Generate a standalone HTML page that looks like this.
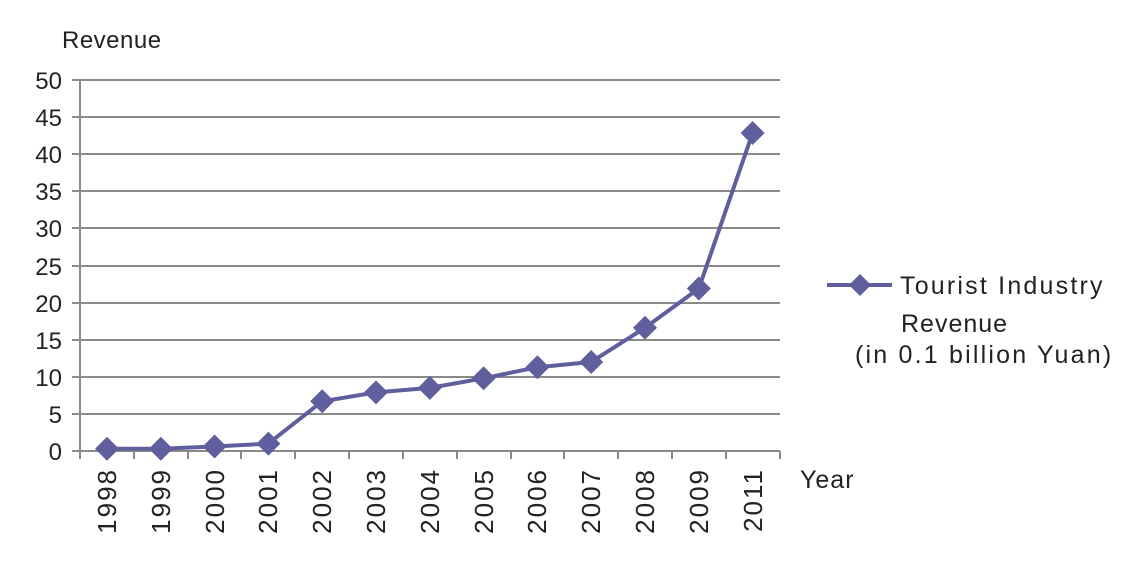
<!DOCTYPE html>
<html><head><meta charset="utf-8"><style>
html,body{margin:0;padding:0;background:#fff;}
svg text{font-family:"Liberation Sans",sans-serif;fill:#222;}
</style></head><body>
<svg width="1133" height="560" viewBox="0 0 1133 560" xmlns="http://www.w3.org/2000/svg">
<g stroke="#8a8a8a" stroke-width="2">
<line x1="72" y1="80" x2="780" y2="80"/>
<line x1="72" y1="117" x2="780" y2="117"/>
<line x1="72" y1="154" x2="780" y2="154"/>
<line x1="72" y1="191" x2="780" y2="191"/>
<line x1="72" y1="228" x2="780" y2="228"/>
<line x1="72" y1="266" x2="780" y2="266"/>
<line x1="72" y1="303" x2="780" y2="303"/>
<line x1="72" y1="340" x2="780" y2="340"/>
<line x1="72" y1="377" x2="780" y2="377"/>
<line x1="72" y1="414" x2="780" y2="414"/>
<line x1="72" y1="451" x2="780" y2="451"/>
<line x1="80" y1="80" x2="80" y2="459"/>
<line x1="134" y1="451" x2="134" y2="459"/>
<line x1="188" y1="451" x2="188" y2="459"/>
<line x1="241" y1="451" x2="241" y2="459"/>
<line x1="295" y1="451" x2="295" y2="459"/>
<line x1="349" y1="451" x2="349" y2="459"/>
<line x1="403" y1="451" x2="403" y2="459"/>
<line x1="457" y1="451" x2="457" y2="459"/>
<line x1="511" y1="451" x2="511" y2="459"/>
<line x1="564" y1="451" x2="564" y2="459"/>
<line x1="618" y1="451" x2="618" y2="459"/>
<line x1="672" y1="451" x2="672" y2="459"/>
<line x1="726" y1="451" x2="726" y2="459"/>
<line x1="780" y1="451" x2="780" y2="459"/>
</g>
<g font-size="24" text-anchor="end">
<text x="62" y="89">50</text><text x="62" y="126">45</text><text x="62" y="163">40</text>
<text x="62" y="200">35</text><text x="62" y="237">30</text><text x="62" y="275">25</text>
<text x="62" y="312">20</text><text x="62" y="349">15</text><text x="62" y="386">10</text>
<text x="62" y="423">5</text><text x="62" y="460">0</text>
</g>
<text x="62" y="48" font-size="24" letter-spacing="0.5">Revenue</text>
<text x="800" y="488" font-size="25" letter-spacing="1">Year</text>
<g font-size="26" text-anchor="end" letter-spacing="2">
<text transform="translate(116,468) rotate(-90)">1998</text>
<text transform="translate(170,468) rotate(-90)">1999</text>
<text transform="translate(224,468) rotate(-90)">2000</text>
<text transform="translate(277,468) rotate(-90)">2001</text>
<text transform="translate(331,468) rotate(-90)">2002</text>
<text transform="translate(385,468) rotate(-90)">2003</text>
<text transform="translate(439,468) rotate(-90)">2004</text>
<text transform="translate(493,468) rotate(-90)">2005</text>
<text transform="translate(546,468) rotate(-90)">2006</text>
<text transform="translate(600,468) rotate(-90)">2007</text>
<text transform="translate(654,468) rotate(-90)">2008</text>
<text transform="translate(708,468) rotate(-90)">2009</text>
<text transform="translate(762,468) rotate(-90)">2011</text>
</g>
<polyline fill="none" stroke="#5f5f9d" stroke-width="4" stroke-linejoin="round"
points="107,448.8 160.8,448.8 214.6,446.5 268.4,443.6 322.2,401.3 376,392.4 429.8,387.9 483.6,378.3 537.4,367.2 591.2,362 645,327.8 698.8,288.5 752.6,133"/>
<g fill="#5f5f9d">
<path d="M107,436.8l12,12l-12,12l-12,-12z"/>
<path d="M160.8,436.8l12,12l-12,12l-12,-12z"/>
<path d="M214.6,434.5l12,12l-12,12l-12,-12z"/>
<path d="M268.4,431.6l12,12l-12,12l-12,-12z"/>
<path d="M322.2,389.3l12,12l-12,12l-12,-12z"/>
<path d="M376,380.4l12,12l-12,12l-12,-12z"/>
<path d="M429.8,375.9l12,12l-12,12l-12,-12z"/>
<path d="M483.6,366.3l12,12l-12,12l-12,-12z"/>
<path d="M537.4,355.2l12,12l-12,12l-12,-12z"/>
<path d="M591.2,350l12,12l-12,12l-12,-12z"/>
<path d="M645,315.8l12,12l-12,12l-12,-12z"/>
<path d="M698.8,276.5l12,12l-12,12l-12,-12z"/>
<path d="M752.6,121l12,12l-12,12l-12,-12z"/>
<path d="M860,274l11,11l-11,11l-11,-11z"/>
</g>
<line x1="827" y1="285" x2="892" y2="285" stroke="#5f5f9d" stroke-width="4"/>
<g font-size="25">
<text x="900" y="294" letter-spacing="2.2">Tourist Industry</text>
<text x="901" y="332" letter-spacing="1">Revenue</text>
<text x="855" y="363" letter-spacing="2.2">(in 0.1 billion Yuan)</text>
</g>
</svg>
</body></html>
